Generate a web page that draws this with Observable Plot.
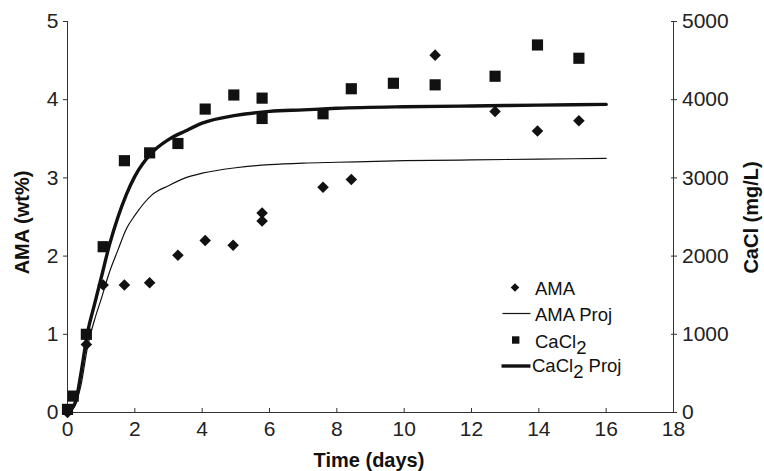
<!DOCTYPE html>
<html><head><meta charset="utf-8">
<script src="https://cdn.jsdelivr.net/npm/d3@7"></script>
<script src="https://cdn.jsdelivr.net/npm/@observablehq/plot@0.6"></script>
<style>body{margin:0;background:#fff}</style>
</head><body><div id="chart"></div>
<script>
// Measured data
const amaTime  = [0, 0.56, 1.06, 1.69, 2.44, 3.28, 4.09, 4.92, 5.78, 5.78, 7.59, 8.43, 10.92, 12.70, 13.96, 15.19];
const amaValue = [0, 0.87, 1.63, 1.63, 1.66, 2.01, 2.20, 2.14, 2.55, 2.45, 2.88, 2.98, 4.57, 3.85, 3.60, 3.73];
const caclTime  = [0, 0.17, 0.56, 1.06, 1.69, 2.44, 3.28, 4.09, 4.94, 5.78, 5.78, 7.59, 8.43, 9.68, 10.92, 12.70, 13.96, 15.19];
const caclValue = [40, 210, 1000, 2120, 3220, 3320, 3440, 3880, 4060, 4020, 3760, 3820, 4140, 4210, 4190, 4300, 4700, 4530];
const projTime     = [0, 0.1, 0.25, 0.4, 0.6, 0.8, 1.0, 1.25, 1.5, 1.75, 2.0, 2.5, 3, 3.5, 4, 5, 6, 7, 8, 10, 12, 14, 16];
const amaProjValue = [0, 0.02, 0.12, 0.35, 0.85, 1.18, 1.45, 1.8, 2.08, 2.35, 2.52, 2.78, 2.9, 3.0, 3.06, 3.13, 3.17, 3.19, 3.2, 3.22, 3.23, 3.24, 3.25];
const caclProjValue = [0, 30, 150, 500, 1030, 1380, 1720, 2150, 2500, 2790, 3020, 3320, 3490, 3600, 3700, 3800, 3850, 3870, 3890, 3910, 3920, 3930, 3940];
const xTicks = [0, 2, 4, 6, 8, 10, 12, 14, 16, 18];
const yTicks = [0, 1, 2, 3, 4, 5];
const caclTicks = [0, 1000, 2000, 3000, 4000, 5000];

const ama = amaTime.map((t, i) => ({t, v: amaValue[i]}));
const cacl = caclTime.map((t, i) => ({t, v: caclValue[i]}));
const amaProj = projTime.map((t, i) => ({t, v: amaProjValue[i]}));
const caclProj = projTime.map((t, i) => ({t, v: caclProjValue[i]}));
const toLeft = v => v / 1000; // mg/L onto the wt% scale (5000 <-> 5)

const ink = "#111";
const axisColor = "#333";

const plot = Plot.plot({
  width: 764, height: 471,
  marginTop: 21, marginRight: 91, marginBottom: 59, marginLeft: 67,
  style: {fontFamily: "'Liberation Sans', Arial, sans-serif", fontSize: "21px", color: "#222", background: "#fff", overflow: "visible"},
  x: {domain: [0, 18]},
  y: {domain: [0, 5]},
  marks: [
    Plot.ruleX([0], {stroke: axisColor, strokeWidth: 1}),
    Plot.ruleX([18], {stroke: axisColor, strokeWidth: 1}),
    Plot.ruleY([0], {stroke: axisColor, strokeWidth: 1}),
    // x axis: inward ticks + labels
    Plot.axisX(xTicks, {anchor: "bottom", tickSize: 4, dy: -4, fill: "none", stroke: axisColor, label: null}),
    Plot.axisX(xTicks, {anchor: "bottom", tickSize: 0, tickPadding: 9, label: null, tickFormat: d => String(d)}),
    // left axis
    Plot.axisY(yTicks, {anchor: "left", tickSize: 4, tickPadding: 5, stroke: axisColor, label: null, tickFormat: d => String(d)}),
    // right axis: crossing ticks + labels
    Plot.axisY(caclTicks.map(toLeft), {anchor: "right", tickSize: 6, dx: -3, fill: "none", stroke: axisColor, label: null}),
    Plot.axisY(caclTicks.map(toLeft), {anchor: "right", tickSize: 0, tickPadding: 8.5, label: null, tickFormat: d => String(Math.round(d * 1000))}),
    // data
    Plot.line(amaProj, {x: "t", y: "v", stroke: ink, strokeWidth: 1.2, curve: "monotone-x"}),
    Plot.line(caclProj, {x: "t", y: d => toLeft(d.v), stroke: ink, strokeWidth: 3.4, curve: "monotone-x"}),
    Plot.dot(ama, {x: "t", y: "v", symbol: "diamond2", r: 5.2, fill: ink, stroke: "none"}),
    Plot.dot(cacl, {x: "t", y: d => toLeft(d.v), symbol: "square", r: 6.3, fill: ink, stroke: "none"})
  ]
});
document.getElementById("chart").appendChild(plot);

// axis titles & legend
const svg = d3.select(plot);
const g = svg.append("g").attr("font-family", "'Liberation Sans', Arial, sans-serif").attr("fill", "#111");
g.append("text").attr("x", 369).attr("y", 466.5).attr("text-anchor", "middle")
  .attr("font-size", 20).attr("font-weight", "bold").text("Time (days)");
g.append("text").attr("transform", "translate(22,222.5) rotate(-90)").attr("dy", "0.36em")
  .attr("text-anchor", "middle").attr("font-size", 20).attr("font-weight", "bold").text("AMA (wt%)");
g.append("text").attr("transform", "translate(751,217.5) rotate(-90)").attr("dy", "0.36em")
  .attr("text-anchor", "middle").attr("font-size", 20).attr("font-weight", "bold").text("CaCl (mg/L)");

const leg = g.append("g").attr("font-size", 18.5).attr("text-anchor", "start");
// AMA
leg.append("path").attr("d", "M515,283.3 L519.3,287.5 L515,291.7 L510.7,287.5 Z").attr("fill", ink);
leg.append("text").attr("x", 535).attr("y", 295).text("AMA");
// AMA Proj
leg.append("line").attr("x1", 502.5).attr("x2", 530.5).attr("y1", 313.5).attr("y2", 313.5).attr("stroke", ink).attr("stroke-width", 1.2);
leg.append("text").attr("x", 535).attr("y", 321).text("AMA Proj");
// CaCl2
leg.append("rect").attr("x", 512).attr("y", 336.3).attr("width", 7.4).attr("height", 7.4).attr("fill", ink);
const t3 = leg.append("text").attr("x", 535).attr("y", 347.5);
t3.append("tspan").text("CaCl");
t3.append("tspan").attr("dy", 6).text("2");
// CaCl2 Proj
leg.append("line").attr("x1", 501.5).attr("x2", 530.5).attr("y1", 366).attr("y2", 366).attr("stroke", ink).attr("stroke-width", 3.4);
const t4 = leg.append("text").attr("x", 532).attr("y", 371.5);
t4.append("tspan").text("CaCl");
t4.append("tspan").attr("dy", 6).text("2");
t4.append("tspan").attr("dy", -6).text(" Proj");
</script>
</body></html>
